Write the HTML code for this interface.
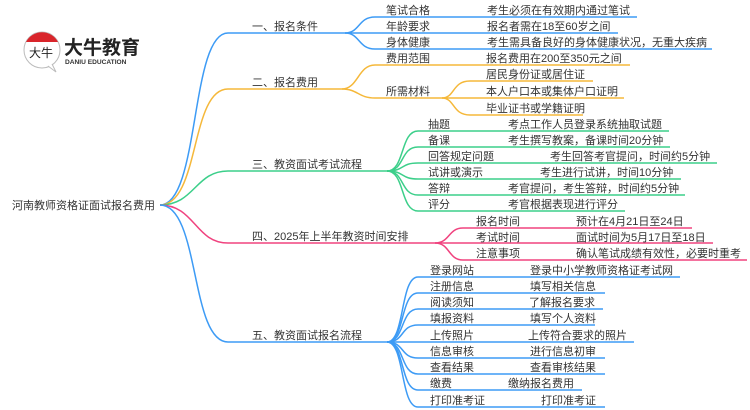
<!DOCTYPE html>
<html><head><meta charset="utf-8"><style>
html,body{margin:0;padding:0;background:#fff;}
svg{display:block;}
text{font-family:"Liberation Sans","Noto Sans CJK SC",sans-serif;font-size:11px;fill:#333;}
</style></head><body>
<svg width="750" height="410" viewBox="0 0 750 410" xmlns="http://www.w3.org/2000/svg">
<g fill="none" stroke-width="1.5">
<path d="M160 205 C200 205,190 33,228 33 L345 33" stroke="#3d9bf5"/>
<path d="M160 205 C200 205,190 89,228 89 L342 89" stroke="#f5b83a"/>
<path d="M160 205 C195 205,195 171,228 171 L387 171" stroke="#3ccf8a"/>
<path d="M160 205 C195 205,195 243,228 243 L435 243" stroke="#f0437f"/>
<path d="M160 205 C200 205,190 342,228 342 L387 342" stroke="#3d9bf5"/>
<g stroke="#3d9bf5">
<path d="M345 33 C360 33,358 17,375 17 L637 17"/>
<path d="M345 33 L618 33"/>
<path d="M345 33 C360 33,358 49,375 49 L712 49"/>
</g>
<g stroke="#f5b83a">
<path d="M342 89 C358 89,358 65,375 65 L630 65"/>
<path d="M342 89 C358 89,358 98,375 98 L442 98"/>
<path d="M442 98 C455 98,452 81,470 81 L593 81"/>
<path d="M442 98 L624 98"/>
<path d="M442 98 C455 98,452 115,470 115 L583 115"/>
</g>
<g stroke="#3ccf8a">
<path d="M387 171 C405 171,400 131,418 131 L669 131"/>
<path d="M387 171 C405 171,400 147,418 147 L670 147"/>
<path d="M387 171 C405 171,400 163,418 163 L717 163"/>
<path d="M387 171 C405 171,400 179,418 179 L681 179"/>
<path d="M387 171 C405 171,400 195,418 195 L685 195"/>
<path d="M387 171 C405 171,400 211,418 211 L625 211"/>
</g>
<g stroke="#f0437f">
<path d="M435 243 C450 243,448 228,463 228 L692 228"/>
<path d="M435 243 L713 243"/>
<path d="M435 243 C450 243,448 260,463 260 L747 260"/>
</g>
<g stroke="#3d9bf5">
<path d="M387 342 C405 342,400 277,418 277 L680 277"/>
<path d="M387 342 C405 342,400 293,418 293 L605 293"/>
<path d="M387 342 C405 342,400 309,418 309 L603 309"/>
<path d="M387 342 C405 342,400 325,418 325 L595 325"/>
<path d="M387 342 C405 342,400 342,418 342 L634 342"/>
<path d="M387 342 C405 342,400 358,418 358 L605 358"/>
<path d="M387 342 C405 342,400 374,418 374 L605 374"/>
<path d="M387 342 C405 342,400 390,418 390 L582 390"/>
<path d="M387 342 C405 342,400 407,418 407 L605 407"/>
</g>
</g>
<circle cx="42" cy="50" r="18" fill="#fff" stroke="#bbb" stroke-width="1"/>
<path d="M26 42 A18 18 0 0 1 58 42 Z" fill="#d9252b"/>
<path d="M48 66 L56 72 L52 64" fill="#fff" stroke="#bbb"/>
<text x="29" y="57" style="font-size:12px;fill:#222">大牛</text>
<text x="64" y="54" style="font-size:19px;font-weight:bold;fill:#222">大牛教育</text>
<text x="65" y="64" style="font-size:6.6px;font-weight:bold;fill:#333">DANIU EDUCATION</text>
<text x="12" y="209">河南教师资格证面试报名费用</text>
<text x="252" y="30">一、报名条件</text>
<text x="252" y="86">二、报名费用</text>
<text x="252" y="168">三、教资面试考试流程</text>
<text x="252" y="240">四、2025年上半年教资时间安排</text>
<text x="252" y="339">五、教资面试报名流程</text>
<text x="386" y="14">笔试合格</text><text x="487" y="14">考生必须在有效期内通过笔试</text>
<text x="386" y="30">年龄要求</text><text x="487" y="30">报名者需在18至60岁之间</text>
<text x="386" y="46">身体健康</text><text x="487" y="46">考生需具备良好的身体健康状况，无重大疾病</text>
<text x="386" y="62">费用范围</text><text x="486" y="62">报名费用在200至350元之间</text>
<text x="386" y="95">所需材料</text>
<text x="486" y="78">居民身份证或居住证</text>
<text x="486" y="95">本人户口本或集体户口证明</text>
<text x="486" y="112">毕业证书或学籍证明</text>
<text x="428" y="128">抽题</text><text x="508" y="128">考点工作人员登录系统抽取试题</text>
<text x="428" y="144">备课</text><text x="508" y="144">考生撰写教案，备课时间20分钟</text>
<text x="428" y="160">回答规定问题</text><text x="550" y="160">考生回答考官提问，时间约5分钟</text>
<text x="428" y="176">试讲或演示</text><text x="540" y="176">考生进行试讲，时间10分钟</text>
<text x="428" y="192">答辩</text><text x="508" y="192">考官提问，考生答辩，时间约5分钟</text>
<text x="428" y="208">评分</text><text x="508" y="208">考官根据表现进行评分</text>
<text x="476" y="225">报名时间</text><text x="576" y="225">预计在4月21日至24日</text>
<text x="476" y="241">考试时间</text><text x="576" y="241">面试时间为5月17日至18日</text>
<text x="476" y="257">注意事项</text><text x="576" y="257">确认笔试成绩有效性，必要时重考</text>
<text x="430" y="274">登录网站</text><text x="530" y="274">登录中小学教师资格证考试网</text>
<text x="430" y="290">注册信息</text><text x="530" y="290">填写相关信息</text>
<text x="430" y="306">阅读须知</text><text x="529" y="306">了解报名要求</text>
<text x="430" y="322">填报资料</text><text x="530" y="322">填写个人资料</text>
<text x="430" y="339">上传照片</text><text x="528" y="339">上传符合要求的照片</text>
<text x="430" y="355">信息审核</text><text x="530" y="355">进行信息初审</text>
<text x="430" y="371">查看结果</text><text x="530" y="371">查看审核结果</text>
<text x="430" y="387">缴费</text><text x="508" y="387">缴纳报名费用</text>
<text x="430" y="404">打印准考证</text><text x="541" y="404">打印准考证</text>
</svg>
</body></html>
